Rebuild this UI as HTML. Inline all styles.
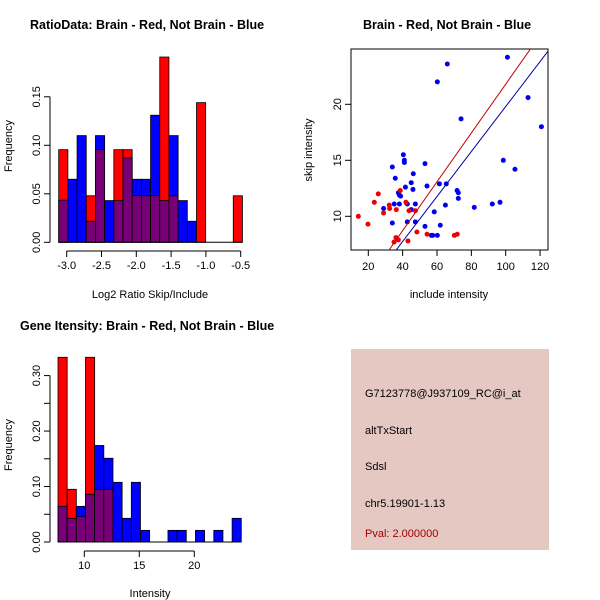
<!DOCTYPE html>
<html><head><meta charset="utf-8"><style>
body{margin:0;background:#fff;}
svg{display:block;font-family:"Liberation Sans",sans-serif;}
.t{font-weight:bold;font-size:12.5px;}
.l{font-size:11px;}
.s{font-size:10px;}
</style></head><body>
<svg id="c" width="600" height="600" xmlns="http://www.w3.org/2000/svg">
<rect width="600" height="600" fill="#fff"/>
<text class="t" x="30" y="29">RatioData: Brain - Red, Not Brain - Blue</text>
<text class="t" x="363" y="29">Brain - Red, Not Brain - Blue</text>
<text class="t" x="20" y="330">Gene Itensity: Brain - Red, Not Brain - Blue</text>
<text class="l" x="150" y="298" text-anchor="middle">Log2 Ratio Skip/Include</text>
<text class="l" transform="translate(12,146) rotate(-90)" text-anchor="middle">Frequency</text>
<text class="l" x="449" y="298" text-anchor="middle">include intensity</text>
<text class="l" transform="translate(312,150) rotate(-90)" text-anchor="middle">skip intensity</text>
<text class="l" x="150" y="597" text-anchor="middle">Intensity</text>
<text class="l" transform="translate(12,445) rotate(-90)" text-anchor="middle">Frequency</text>
<rect x="351" y="349" width="198" height="201" fill="#e5c8c2"/>
<text class="l" x="365" y="397">G7123778@J937109_RC@i_at</text>
<text class="l" x="365" y="434">altTxStart</text>
<text class="l" x="365" y="470">Sdsl</text>
<text class="l" x="365" y="507">chr5.19901-1.13</text>
<text class="l" x="365" y="537" fill="#a00000">Pval: 2.000000</text>
<g id="g"></g>
</svg>
<script>
// Ratio histogram data
const ratioStart = -3.115, ratioBin = 0.132;
const ratioRed  = [0.0955,0,0,0.048,0.0955,0,0.0955,0.0955,0.048,0.048,0.048,0.191,0.048,0,0,0.144,0,0,0,0.048];
const ratioBlue = [0.0434,0.065,0.11,0.0217,0.11,0.043,0.043,0.087,0.065,0.065,0.131,0.043,0.11,0.043,0.0217,0,0,0,0,0];
const ratioXTicks = [-3.0,-2.5,-2.0,-1.5,-1.0,-0.5];
const ratioXLabels = ["-3.0","-2.5","-2.0","-1.5","-1.0","-0.5"];
const ratioYTicks = [0,0.05,0.10,0.15];
const ratioYLabels = ["0.00","0.05","0.10","0.15"];
// Intensity histogram data
const intStart = 7.61, intBin = 0.833;
const intRed  = [0.333,0.095,0.0457,0.333,0.095,0.095,0,0,0,0,0,0,0,0,0,0,0,0,0,0];
const intBlue = [0.0643,0.0427,0.0643,0.086,0.174,0.151,0.1076,0.0427,0.1076,0.021,0,0,0.021,0.021,0,0.021,0,0.021,0,0.0427];
const intXTicks = [10,15,20];
const intXLabels = ["10","15","20"];
const intYTicks = [0,0.05,0.10,0.15,0.20,0.25,0.30];
const intYLabels = ["0.00","","0.10","","0.20","","0.30"];
// Scatter data
const blueX = [101.0,66.0,60.2,113.0,120.8,74.0,98.6,105.4,40.4,41.0,41.0,34.0,53.0,46.2,35.7,45.0,41.6,46.0,54.2,61.4,65.4,71.7,72.4,72.4,37.5,38.1,38.8,35.1,38.1,42.7,47.4,28.9,45.0,64.9,81.7,92.2,96.7,58.4,34.0,42.7,47.4,53.0,61.9,56.7,57.5,60.2];
const blueY = [24.2,23.6,22.0,20.6,18.0,18.7,15.0,14.2,15.5,15.0,14.8,14.4,14.7,13.8,13.4,13.0,12.6,12.4,12.7,12.9,12.9,12.3,12.1,11.6,12.1,11.9,11.8,11.1,11.1,11.1,11.1,10.7,10.6,11.0,10.8,11.1,11.25,10.4,9.4,9.5,9.5,9.1,9.2,8.3,8.3,8.3];
const redX = [14.2,19.8,23.5,25.8,28.9,32.2,32.4,36.3,38.6,41.9,43.7,47.4,36.1,35.0,37.5,43.1,48.3,54.2,70.1,71.8];
const redY = [10.0,9.3,11.25,12.0,10.3,11.0,10.7,10.6,12.3,11.25,10.5,10.5,8.1,7.7,7.9,7.8,8.6,8.4,8.3,8.4];
const lineSlope = [0.218,0.2008];
const lineIntercept = [0.0,-0.28];
const lineColor = ["#c00000","#0000a0"];
const scXTicks = [20,40,60,80,100,120];
const scYTicks = [10,15,20];

const NS="http://www.w3.org/2000/svg", G=document.getElementById('g');
function mk(tag,attrs,name,txt){const e=document.createElementNS(NS,tag);for(const k in attrs)e.setAttribute(k,attrs[k]);


if(txt!==undefined)e.textContent=txt;G.appendChild(e);return e;}

function hist(pfx,start,bin,red,blue,sx,sy,xt,xl,yt,yl,axY,axX){
  const base=sy(0);
  for(let i=0;i<red.length;i++){
    const x0=sx(start+i*bin),x1=sx(start+(i+1)*bin);
    const r=red[i],b=blue[i],m=Math.min(r,b),mx=Math.max(r,b);
    if(mx<=0) continue;
    mk('rect',{x:x0,y:sy(mx),width:x1-x0,height:base-sy(mx),fill:r>=b?'#ff0000':'#0000ff',stroke:'#000','stroke-width':0.8},pfx+'-bar-'+i);
    if(m>0) mk('rect',{x:x0,y:sy(m),width:x1-x0,height:base-sy(m),fill:'#770077',stroke:'#000','stroke-width':0.8},pfx+'-overlap-'+i);
  }
  mk('line',{x1:sx(start),x2:sx(start+red.length*bin),y1:base,y2:base,stroke:'#000'},pfx+'-baseline');
  mk('line',{x1:sx(xt[0]),x2:sx(xt[xt.length-1]),y1:axY,y2:axY,stroke:'#000'},pfx+'-x-axis');
  xt.forEach((v,i)=>{mk('line',{x1:sx(v),x2:sx(v),y1:axY,y2:axY+6,stroke:'#000'},pfx+'-x-tick');
    mk('text',{x:sx(v),y:axY+18,'text-anchor':'middle','class':'l'},pfx+'-x-label',xl[i]);});
  mk('line',{x1:axX,x2:axX,y1:sy(yt[0]),y2:sy(yt[yt.length-1]),stroke:'#000'},pfx+'-y-axis');
  yt.forEach((v,i)=>{mk('line',{x1:axX,x2:axX-6,y1:sy(v),y2:sy(v),stroke:'#000'},pfx+'-y-tick');
    if(yl[i]) mk('text',{transform:`translate(${axX-10},${sy(v)}) rotate(-90)`,'text-anchor':'middle','class':'l'},pfx+'-y-label',yl[i]);});
}
hist('ratio',ratioStart,ratioBin,ratioRed,ratioBlue,v=>66.7+(v+3)*69.6,v=>242.3-v*970,ratioXTicks,ratioXLabels,ratioYTicks,ratioYLabels,251,50);
hist('intensity',intStart,intBin,intRed,intBlue,v=>84.3+(v-10)*11,v=>542-v*554.7,intXTicks,intXLabels,intYTicks,intYLabels,551,50);

// scatter
const sx=v=>368.3+(v-20)*1.7175, sy=v=>216.3-(v-10)*11.2;
mk('rect',{x:351,y:49,width:197,height:201,fill:'none',stroke:'#000'},'scatter-plot-box');
const cp=mk('clipPath',{id:'cl'},'scatter-clip');
const cr=document.createElementNS(NS,'rect');cr.setAttribute('x',351);cr.setAttribute('y',49);cr.setAttribute('width',197);cr.setAttribute('height',201);cp.appendChild(cr);
blueX.forEach((v,i)=>mk('circle',{cx:sx(v),cy:sy(blueY[i]),r:2.5,fill:'#0000ee'},'blue-point'));
redX.forEach((v,i)=>mk('circle',{cx:sx(v),cy:sy(redY[i]),r:2.5,fill:'#ee0000'},'red-point'));
lineSlope.forEach((s,i)=>{const a=0,b=130;
  mk('line',{x1:sx(a),y1:sy(s*a+lineIntercept[i]),x2:sx(b),y2:sy(s*b+lineIntercept[i]),stroke:lineColor[i],'stroke-width':1,'clip-path':'url(#cl)'},'fit-line-'+i);});
scXTicks.forEach(v=>{mk('line',{x1:sx(v),x2:sx(v),y1:250,y2:256,stroke:'#000'},'scatter-x-tick');
  mk('text',{x:sx(v),y:270,'text-anchor':'middle','class':'l'},'scatter-x-label',String(v));});
scYTicks.forEach(v=>{mk('line',{x1:351,x2:345,y1:sy(v),y2:sy(v),stroke:'#000'},'scatter-y-tick');
  mk('text',{transform:`translate(341,${sy(v)}) rotate(-90)`,'text-anchor':'middle','class':'l'},'scatter-y-label',String(v));});
</script>
</body></html>
